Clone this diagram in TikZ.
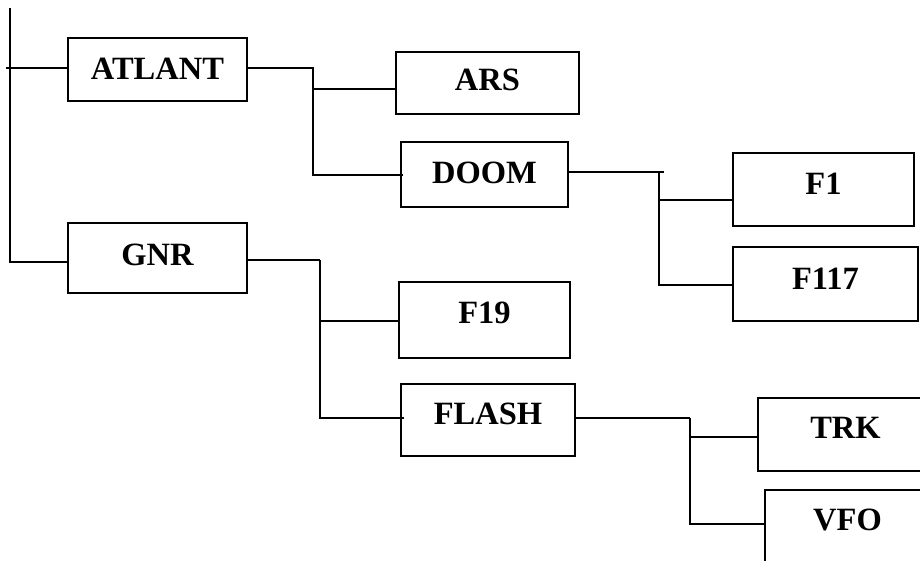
\documentclass[tikz,border=0pt]{standalone}
\usepackage{fontspec}
\setmainfont{Liberation Serif}
\usetikzlibrary{calc}

\begin{document}
\begin{tikzpicture}[x=1pt,y=-1pt,line width=1.9pt,
  blk/.style={draw,rectangle,inner sep=0pt},
  lbl/.style={anchor=base,inner sep=0pt,font=\fontsize{32.5}{37}\selectfont\bfseries}]
\useasboundingbox (0,0) rectangle (920,560);
\clip (0,0) rectangle (920,560);
% boxes
\node[blk,minimum width=179pt,minimum height=63pt] (atlant) at (157.5,69.5) {};
\node[blk,minimum width=179pt,minimum height=70pt] (gnr) at (157.5,258) {};
\node[blk,minimum width=183pt,minimum height=62pt] (ars) at (487.5,83) {};
\node[blk,minimum width=167pt,minimum height=65pt] (doom) at (484.5,174.5) {};
\node[blk,minimum width=171pt,minimum height=76pt] (f19) at (484.5,320) {};
\node[blk,minimum width=174pt,minimum height=72pt] (flash) at (488,420) {};
\node[blk,minimum width=181pt,minimum height=73pt] (f1) at (823.5,189.5) {};
\node[blk,minimum width=185pt,minimum height=74pt] (f117) at (825.5,284) {};
\node[blk,minimum width=175pt,minimum height=73pt] (trk) at (845.5,434.5) {};
\node[blk,minimum width=165pt,minimum height=75pt] (vfo) at (847.5,527.5) {};
% texts
\node[lbl] (atlant-t) at ([yshift=-9.5pt]atlant.center) {ATLANT};
\node[lbl] (gnr-t) at ([yshift=-7pt]gnr.center) {GNR};
\node[lbl] (ars-t) at ([yshift=-7pt]ars.center) {ARS};
\node[lbl] (doom-t) at ([yshift=-8.5pt]doom.center) {DOOM};
\node[lbl] (f19-t) at ([yshift=-3pt]f19.center) {F19};
\node[lbl] (flash-t) at ([yshift=-4pt]flash.center) {FLASH};
\node[lbl] (f1-t) at ([yshift=-4.5pt]f1.center) {F1};
\node[lbl] (f117-t) at ([yshift=-5pt]f117.center) {F117};
\node[lbl] (trk-t) at ([yshift=-3.5pt]trk.center) {TRK};
\node[lbl] (vfo-t) at ([yshift=-2.5pt]vfo.center) {VFO};
% root
\coordinate (root) at (10,8);
\coordinate (rootstub) at (6,68);
\draw (root) |- ([yshift=-4pt]gnr.west);
\draw (rootstub) -- ([yshift=1.5pt]atlant.west);
% ATLANT branch
\draw ([yshift=1.5pt]atlant.east) -- ++(66,0) coordinate (a1);
\draw ([xshift=-1pt]a1) |- ([yshift=-6pt]ars.west);
\draw ([xshift=-1pt]a1) |- ([xshift=3pt,yshift=-0.5pt]doom.west);
% DOOM branch
\draw ([yshift=2.5pt]doom.east) -- ++(95,0) coordinate (d1);
\draw ([xshift=-5pt]d1) |- ([yshift=-10.5pt]f1.west);
\draw ([xshift=-5pt]d1) |- ([yshift=-1pt]f117.west);
% GNR branch
\draw ([yshift=-2pt]gnr.east) -- ++(72,0) coordinate (g1);
\draw (g1) |- ([yshift=-1pt]f19.west);
\draw (g1) |- ([xshift=4pt,yshift=2pt]flash.west);
% FLASH branch
\draw ([yshift=2pt]flash.east) -- ++(114,0) coordinate (s1);
\draw (s1) |- ([yshift=-2.5pt]trk.west);
\draw (s1) |- ([yshift=3.5pt]vfo.west);
\end{tikzpicture}
\end{document}
